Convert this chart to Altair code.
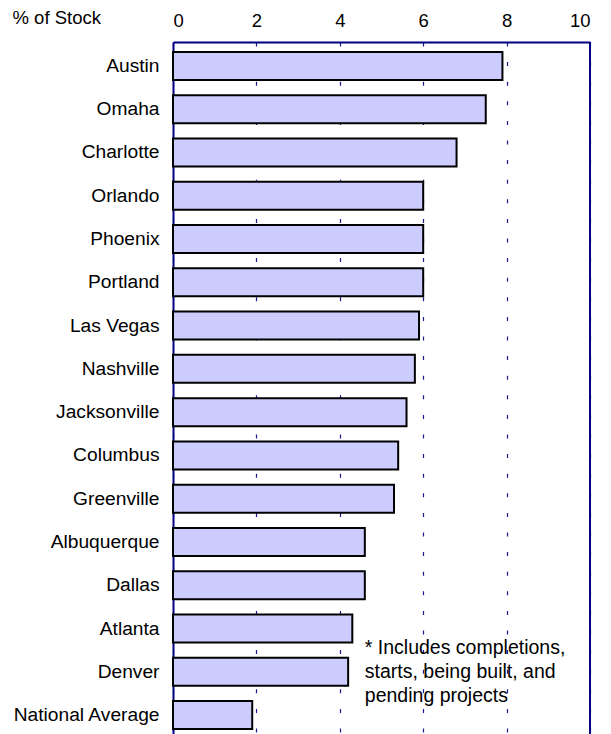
import altair as alt
import pandas as pd

cities = ["Austin", "Omaha", "Charlotte", "Orlando", "Phoenix", "Portland",
          "Las Vegas", "Nashville", "Jacksonville", "Columbus", "Greenville",
          "Albuquerque", "Dallas", "Atlanta", "Denver", "National Average"]
values = [7.9, 7.5, 6.8, 6.0, 6.0, 6.0, 5.9, 5.8, 5.6, 5.4, 5.3, 4.6, 4.6, 4.3, 4.2, 1.9]
x_ticks = [0, 2, 4, 6, 8, 10]
note = "* Includes completions,\nstarts, being built, and\npending projects"
note_x = 4.6
note_row = "Denver"

FONT = "Liberation Sans"
FS = 18.5
LFS = 19.2
NAVY = "#000080"

df = pd.DataFrame({"city": cities, "value": values})

x_enc = alt.X(
    "value:Q",
    scale=alt.Scale(domain=[0, 10], nice=False, zero=True),
    axis=alt.Axis(
        orient="top", values=x_ticks, title=None, ticks=False,
        labelFontSize=FS, labelFont=FONT, labelColor="#000", labelPadding=12,
        domainColor=NAVY, domainWidth=2,
        grid=True, gridColor="#1a1a90", gridWidth=1.2, gridDash=[4, 15.6],
    ),
)
y_enc = alt.Y(
    "city:N", sort=cities,
    scale=alt.Scale(paddingInner=0.353, paddingOuter=0.23),
    axis=alt.Axis(
        title="% of Stock", titleAngle=0, titleAlign="left", titleBaseline="middle",
        titleX=-161, titleY=-25, titleFontSize=FS, titleFont=FONT,
        titleFontWeight="normal", titleColor="#000",
        ticks=False, labelPadding=14, labelFontSize=LFS, labelFont=FONT,
        labelColor="#000", domainColor=NAVY, domainWidth=2,
    ),
)

bars = alt.Chart(df).mark_bar(
    fill="#ccccff", stroke="#000", strokeWidth=2
).encode(x=x_enc, y=y_enc)

right_border = alt.Chart(df).mark_rule(color=NAVY, strokeWidth=2).encode(
    x=alt.datum(10)
)

note_df = pd.DataFrame({"x": [note_x], "city": [note_row], "t": [note]})
note_text = alt.Chart(note_df).mark_text(
    align="left", baseline="middle", lineBreak="\n", lineHeight=24, dy=-24,
    fontSize=19.5, font=FONT, color="#000"
).encode(x=alt.X("x:Q"), y=alt.Y("city:N", sort=cities), text="t:N")

chart = alt.layer(bars, right_border, note_text).properties(
    width=417, height=697,
    padding={"left": 4, "top": 0, "right": 10, "bottom": 0},
).configure_view(stroke=None).configure(font=FONT)

chart.save("out.html", embed_options={"renderer": "svg", "actions": False})
